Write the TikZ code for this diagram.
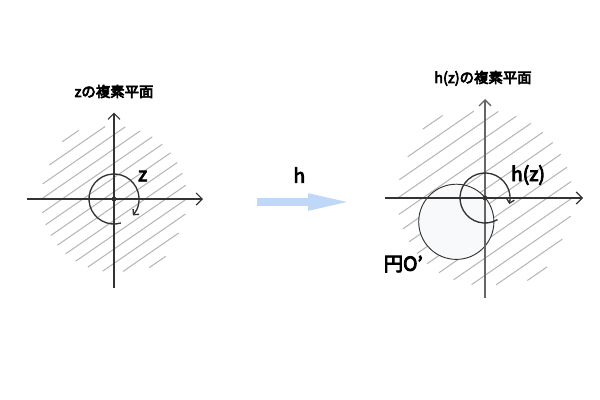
\documentclass[tikz,border=0pt]{standalone}
\usepackage{fontspec}
\newfontfamily\jp{Noto Sans CJK JP}[FakeBold=4.5]
\usetikzlibrary{arrows.meta}
\definecolor{axiscol}{HTML}{333333}
\definecolor{vaxiscol}{HTML}{666666}
\definecolor{hatchcol}{HTML}{B4B4B4}
\definecolor{harrowcol}{HTML}{C0D8F8}
\definecolor{circfill}{HTML}{F7F9FA}
\tikzset{
  axis/.style={draw=axiscol, line width=0.9pt, -{Straight Barb[length=4.5pt,width=9pt]}},
  vaxis/.style={axis, draw=vaxiscol, line width=1pt},
  hatch/.style={draw=hatchcol, line width=0.75pt},
  rotarc/.style={draw=axiscol, line width=1pt, -{Straight Barb[length=3pt,width=6pt]}},
  titletext/.style={font=\jp\fontsize{10.8}{12}\selectfont, inner sep=0pt},
  labeltext/.style={font=\jp\fontsize{14.5}{16}\selectfont, inner sep=0pt},
  bigcirc/.style={draw=axiscol, line width=0.7pt, fill=circfill},
}
\begin{document}
\begin{tikzpicture}[x=0.75pt,y=-0.75pt]
\useasboundingbox (0,0) rectangle (600,400);
\fill[white] (0,0) rectangle (600,400);
% centres
\coordinate (lc) at (114,199);
\coordinate (rc) at (485,198);
% hatching left
\foreach \k in {0,...,13}{
  \pgfmathsetmacro\d{-76.5+11.77*\k}
  \pgfmathsetmacro\L{sqrt(max(73*73-\d*\d,100))}
  \draw[hatch,shift={(lc)}] ({\d*0.568-\L*0.823},{\d*0.823+\L*0.568}) -- ({\d*0.568+\L*0.823},{\d*0.823-\L*0.568});
}
% hatching right
\foreach \k in {0,...,13}{
  \pgfmathsetmacro\d{-92+14.15*\k}
  \pgfmathsetmacro\L{sqrt(max(87.6*87.6-\d*\d,144))}
  \draw[hatch,shift={(rc)}] ({\d*0.568-\L*0.823},{\d*0.823+\L*0.568}) -- ({\d*0.568+\L*0.823},{\d*0.823-\L*0.568});
}
% big circle O'
\coordinate (bc) at (456.3,221.8);
\draw[bigcirc] (bc) circle[radius=37.6];
% axes left
\coordinate (lxl) at (27,199);
\coordinate (lxr) at (203,199);
\coordinate (lyb) at (114,288);
\coordinate (lyt) at (114,112.5);
\draw[axis] (lxl) -- (lxr);
\draw[axis] (lyb) -- (lyt);
% axes right
\coordinate (rxl) at (385,198);
\coordinate (rxr) at (583,198);
\coordinate (ryb) at (485,298);
\coordinate (ryt) at (485,99);
\draw[axis] (rxl) -- (rxr);
\draw[vaxis] (ryb) -- (ryt);
% rotation arcs
\draw[rotarc] ([shift={(74:25)}]lc) arc[start angle=74,end angle=401,radius=25];
\draw[rotarc] ([shift={(60:25)}]rc) arc[start angle=60,end angle=374,radius=25];
% dots
\fill[axiscol] (lc) circle[radius=2.4];
\fill[axiscol] (rc) circle[radius=2.4];
% map arrow h
\coordinate (hs) at (257,202);
\coordinate (he) at (353,202);
\draw[harrowcol, line width=5.8pt, -{Triangle[length=33.75pt,width=11.25pt]}] (hs) -- (he);
% texts
\node[titletext] (t1) at (114,91.5) {zの複素平面};
\node[titletext] (t2) at (483,78.3) {h(z)の複素平面};
\node[labeltext] (lz) at (142.7,176) {z};
\node[labeltext] (lhz) at (528,175) {h(z)};
\node[labeltext] (lo) at (403.3,264) {円O’};
\node[labeltext] (lh) at (299.3,175) {h};
\end{tikzpicture}
\end{document}
